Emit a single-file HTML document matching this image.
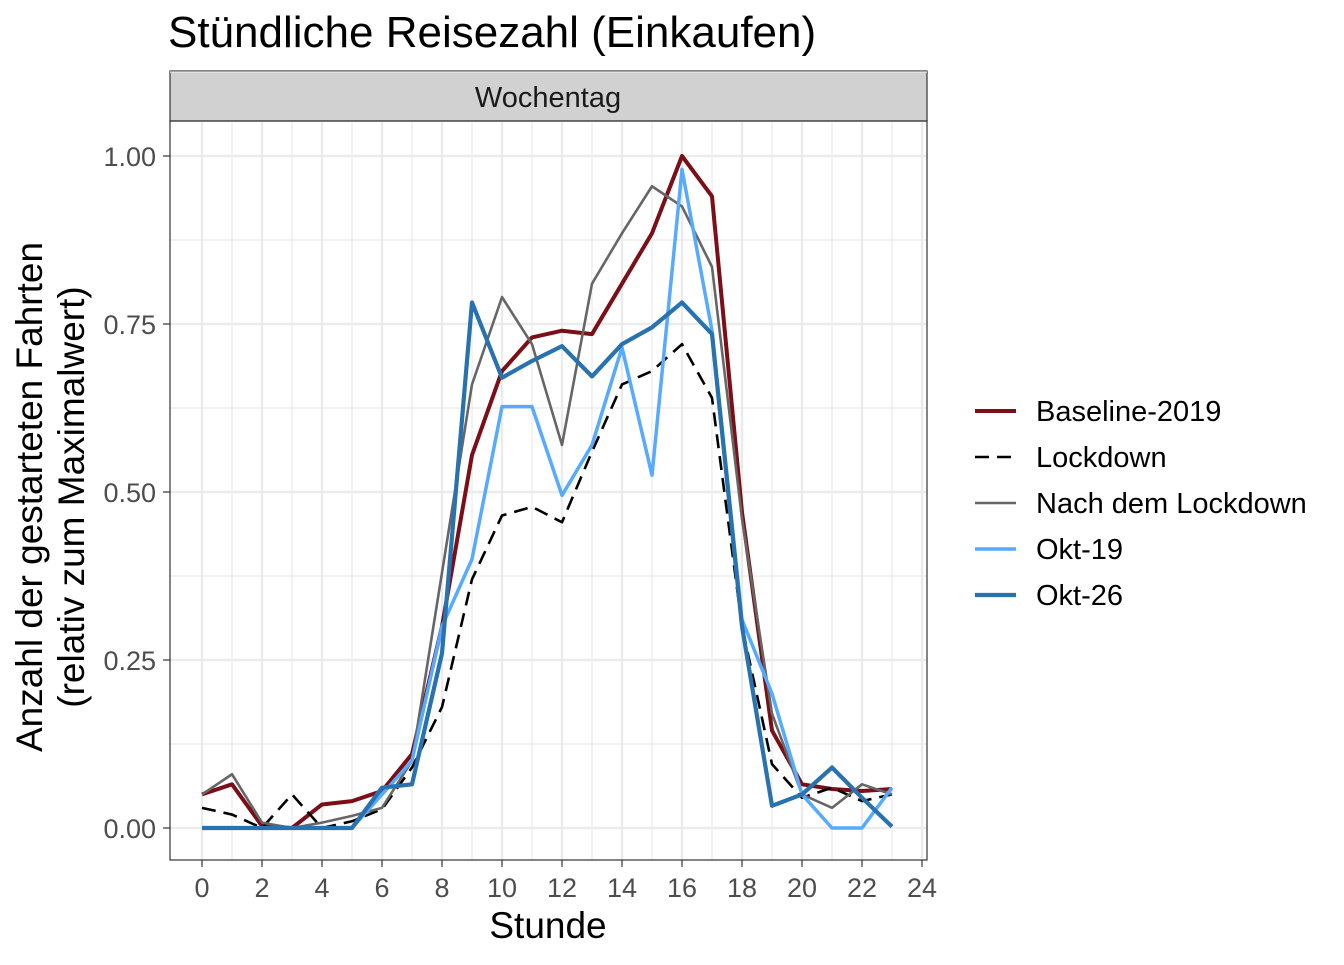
<!DOCTYPE html>
<html><head><meta charset="utf-8"><style>
body{margin:0;background:#fff;font-family:"Liberation Sans",Arial,sans-serif;}
svg text{font-family:"Liberation Sans",Arial,sans-serif;}
</style></head><body>
<svg id="chart" width="1344" height="960" viewBox="0 0 1344 960" xmlns="http://www.w3.org/2000/svg">
<text x="168" y="47" font-size="44" fill="#000">Stündliche Reisezahl (Einkaufen)</text>
<g id="strip">
<rect x="170" y="71" width="757" height="50" fill="#d1d1d1" stroke="#333" stroke-width="1.2"/>
<text x="548" y="107" font-size="29" text-anchor="middle" fill="#1a1a1a">Wochentag</text>
</g>
<g id="grid"></g>
<g id="series"></g>
<rect x="170" y="121" width="757" height="739" fill="none" stroke="#333" stroke-width="1.2"/>
<g id="axes"></g>
<text x="548" y="938" font-size="37" text-anchor="middle" fill="#000">Stunde</text>
<g transform="translate(0,497) rotate(-90)">
<text x="0" y="42" font-size="37" text-anchor="middle" fill="#000">Anzahl der gestarteten Fahrten</text>
<text x="0" y="84" font-size="37" text-anchor="middle" fill="#000">(relativ zum Maximalwert)</text>
</g>
<g id="legend"></g>
</svg>
<script>
const hours = [0,1,2,3,4,5,6,7,8,9,10,11,12,13,14,15,16,17,18,19,20,21,22,23];
const seriesNames = ["Baseline-2019","Lockdown","Nach dem Lockdown","Okt-19","Okt-26"];
const baseline = [0.05,0.065,0.003,0,0.035,0.04,0.055,0.11,0.3,0.555,0.68,0.73,0.74,0.735,0.81,0.885,1.0,0.94,0.47,0.145,0.065,0.058,0.055,0.058];
const lockdown = [0.03,0.02,0.0,0.05,0.0,0.01,0.028,0.09,0.18,0.37,0.465,0.478,0.455,0.56,0.66,0.68,0.72,0.64,0.3,0.095,0.045,0.06,0.04,0.05];
const nachLockdown = [0.05,0.08,0.008,0.0,0.008,0.018,0.03,0.1,0.38,0.66,0.79,0.72,0.57,0.81,0.885,0.955,0.925,0.835,0.46,0.17,0.05,0.03,0.065,0.05];
const okt19 = [0,0,0,0,0,0,0.05,0.1,0.3,0.4,0.627,0.627,0.495,0.57,0.715,0.525,0.98,0.74,0.31,0.2,0.05,0,0,0.06];
const okt26 = [0,0,0,0,0,0,0.06,0.065,0.26,0.782,0.67,0.695,0.717,0.672,0.72,0.745,0.782,0.735,0.3,0.033,0.05,0.09,0.045,0.002];
const xTicks = [0,2,4,6,8,10,12,14,16,18,20,22,24];
const yTicks = [0,0.25,0.5,0.75,1.0];
const yTickLabels = ["0.00","0.25","0.50","0.75","1.00"];

const NS="http://www.w3.org/2000/svg";
const X = h => 202 + h*30;
const Y = v => 828 - v*672;
function mk(tag, parent, attrs){const e=document.createElementNS(NS,tag);for(const k in attrs)e.setAttribute(k,attrs[k]);parent.appendChild(e);return e;}
const grid=document.getElementById('grid'), axes=document.getElementById('axes'), ser=document.getElementById('series'), leg=document.getElementById('legend');
for(let h=1;h<24;h+=2){const l=mk('line',grid,{x1:X(h),x2:X(h),y1:122,y2:860,stroke:'#ebebeb','stroke-width':1.2});

}
for(let i=0;i<yTicks.length-1;i++){const v=(yTicks[i]+yTicks[i+1])/2;const l=mk('line',grid,{x1:170,x2:927,y1:Y(v),y2:Y(v),stroke:'#ebebeb','stroke-width':1.2});

}
{const l=mk('line',grid,{x1:170,x2:927,y1:Y(1.125),y2:Y(1.125),stroke:'#ebebeb','stroke-width':1.2});

}
xTicks.forEach(h=>{const l=mk('line',grid,{x1:X(h),x2:X(h),y1:122,y2:860,stroke:'#ebebeb','stroke-width':2.4});


const t=mk('line',axes,{x1:X(h),x2:X(h),y1:860,y2:867,stroke:'#333','stroke-width':1.2});


const tx=mk('text',axes,{x:X(h),y:897,'font-size':27,'text-anchor':'middle',fill:'#4d4d4d'});tx.textContent=h;

});
yTicks.forEach((v,i)=>{const l=mk('line',grid,{x1:170,x2:927,y1:Y(v),y2:Y(v),stroke:'#ebebeb','stroke-width':2.4});


const t=mk('line',axes,{x1:163,x2:170,y1:Y(v),y2:Y(v),stroke:'#333','stroke-width':1.2});


const tx=mk('text',axes,{x:156,y:Y(v)+10,'font-size':27,'text-anchor':'end',fill:'#4d4d4d'});tx.textContent=yTickLabels[i];

});
const styles=[
 {data:baseline,color:'#7b0e16',w:4,dash:'',name:'line-baseline-2019'},
 {data:lockdown,color:'#000',w:2.6,dash:'14,8',name:'line-lockdown'},
 {data:nachLockdown,color:'#666',w:2.6,dash:'',name:'line-nach-dem-lockdown'},
 {data:okt19,color:'#56aaff',w:3.5,dash:'',name:'line-okt-19'},
 {data:okt26,color:'#2872b0',w:4.2,dash:'',name:'line-okt-26'}];
styles.forEach((s,i)=>{
 const p=mk('polyline',ser,{points:hours.map((h,j)=>X(h)+','+Y(s.data[j])).join(' '),fill:'none',stroke:s.color,'stroke-width':s.w,'stroke-dasharray':s.dash,'stroke-linejoin':'round'});
 
 
 const y=411+i*46;
 const g=mk('g',leg,{});
 
 
 mk('line',g,{x1:975,x2:1016,y1:y,y2:y,stroke:s.color,'stroke-width':s.w,'stroke-dasharray':s.dash});
 const t=mk('text',g,{x:1036,y:y+10,'font-size':29,fill:'#000'});t.textContent=seriesNames[i];
});
</script>
</body></html>
